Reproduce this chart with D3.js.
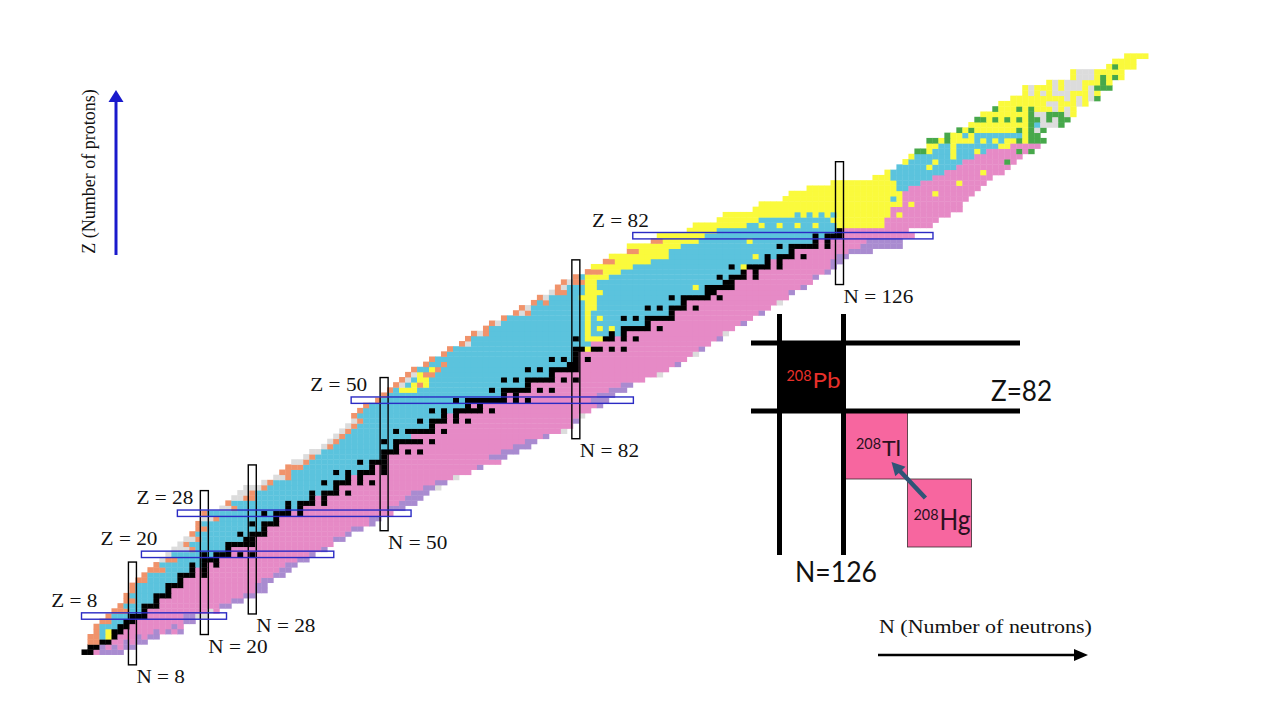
<!DOCTYPE html>
<html>
<head>
<meta charset="utf-8">
<script src="https://cdn.jsdelivr.net/npm/d3@7"></script>
<style>
  body { margin: 0; background: #fff; }
  svg { display: block; }
</style>
</head>
<body>
<div id="chart"></div>
<script>
// one row per element, index 0 is Z = 1
// "firstN:" then runs of decay mode + count along N
// k stable, m beta-, b beta+/EC, a alpha, f fission, p proton, n neutron, u unknown
const chartRows = [
  "0:k2m1n4", "1:k2n1m1n1m1n2", "1:p2k2m2n1m1n2", "1:p2b1a1k1m3n1m1n2",
  "2:p1b1a1k2m5n1m1n1m1n1", "2:p1b3k2m7n1m1", "3:p2b2k2m8n2", "4:p1b3k3m6n2u2",
  "5:p3b2k1m10u1m1", "6:p1b3k3m10n2", "7:p2b3k1m12n2", "7:p1b4k3m12n2",
  "8:p1b5k1m14n2", "8:p1b5k3m12n2", "9:p2b5k1m13n2", "10:p1b5k3m1k1m11n2",
  "11:p3b4k1m1k1m12n2", "12:p1b5k1b1k1m1k1m11n2", "13:u1p2b4k3m13n2", "14:u1b5k1b1k3m1k1m1k1m9n1",
  // Z = 21..40
  "15:u3p1b5k1m15n1", "16:u1p1b6k5m13", "17:u2p1b7k2m13n2", "18:p1b7k1b1k3m13n1",
  "19:p2b9k1m14n2", "19:p1b8k1b1k3m15n1", "20:u2p1b9k1m15n2", "20:p1b9k1b1k3m1k1m15",
  "23:u2p1b8k1b1k1m14n3", "24:p1b9k1b1k3m1k1m12n3", "25:u2p2b9k1m1k1m13n3", "26:u2p1b9k1b1k3m1k1m10n3",
  "27:u3p1b11k1m14n2u1", "30:u1p1b8k1b1k3m1k1m1k1m10n2", "32:u2p1b9k1m1k1m15u1", "33:p2b7k1b1k1b1k3m1k1m14",
  "34:p3b11k1m1k1m15n1", "35:u2p1b8k1b1k3m19", "37:u1p1b11k1m17n3", "38:u2b10k3m1k1m1k1m13n3",
  // Z = 41..60
  "40:u1p1b10k1m19n3", "41:u1p1b7k1b1k5m1k1m15n2", "42:u1p1b11m22n1", "43:u1p1b7k1b1k5m1k1m19u1",
  "44:u1p1b12k1m23", "45:u1p1b9k1b1k3m1k1m1k1m17n1", "45:p1b14k1m1k1m20u1", "46:p1b11k1b1k1b1k5m1k1m16",
  "47:p1b16k1m1k1m19n1", "49:p1b12k1b1k7m1k1m1k1m10n3", "50:p1b19k1m1k1m13n3", "51:p1b1a3b12k1b1k5m1k1m1k1m9n3",
  "52:p1u1b1a1p1a1b16k1m15n2", "53:p1u1b1a2b12k1b1k1b1k5m1k1m1k1m11", "54:p1u1a1p2b19k1m17u1", "55:p1b2a1p1b14k1b1k1b1k5m15",
  "57:p1b2p1b20k2m16n1", "58:p1b19k1b1k1b1k1m1k1m16", "60:p1b21k1m19u1", "61:p1b20k2a1k2m1k1m1k1m12n1",
  // Z = 61..80
  "63:p1u1b20m20", "64:p1b17k1b1a3k2m1k1m1k1m13n1", "65:p1u1p1b16a1b3k1b1k1m16u1", "67:p1b16a1b1a1b1a1b1k5m1k1m12",
  "68:p1u1b14a1b9k1m15n1", "70:p1b13a1b1a1b3k1b1k1b1k5m13", "72:p1u1p1b9a1b13k1m14n1", "73:p1u1b9a2b8k1b1k1b1k3m1k1m12",
  "75:p1b1p1b6a2b14k1m15u1", "76:p1u1b5a3b12k1b1k5m1k1m11", "78:u1p2b3a3b17k2m12n1", "79:p1u1b3a2b16a1b1k5m11n1",
  "80:p1u1p2a2b21k2m13", "82:p1b1a4b18k1b1k3m1k1m9n1", "84:p3a3b20k1m1k1m11n1", "85:a7b16k1b1a1k4m1k1m8n1",
  "87:p2a6b19k1m1k1m8n2", "88:a10b14a1b1k1b1k3m1k1m5n2", "91:p2a5b20k1m9n4", "91:a9b16k1b1k5m1k1m5n7",
  // Z = 81..100
  "95:p2a6b8a1b10k1m1k1m6n6", "96:a8b18k1b1k3m12", "101:a5b20k1m11", "102:a9b2a1b2a1b2a1b2a1b3a8m8",
  "106:a7b12a9m9", "107:a12b1a1b1a1b1a1b1a9m1a1m8", "112:a23m12", "113:a24m1a1m8",
  "117:a18b1a1m11", "118:a19m5a1m6", "121:a15b2m12", "125:a11b4m6a1m4",
  "132:a3b7m10", "134:a1b9m6a1m3", "136:b5a1b4m9", "137:a1b4a1b4m7f1m1",
  "138:a1b6a1b3m8", "139:f2a1b3a1b3a1b1m5f1m1f1", "141:a2b2a1b7a2m5", "141:f2a1f1a4b1a1b1a1b1a2f1a1f3",
  // Z = 101..116
  "144:f1a2b1a1b8a1f2", "146:f1a1f1a7f1a1f1u1f1", "148:a10f1b1u3f1", "149:f2a1f1a1f1a1f1a1f2u1f1u1f2",
  "150:a8f1u2f3u1a1", "152:f1a3f1a1f1a3u1a1u1a1", "153:a8u2a3u1a1", "155:a9u1a1u1a1u1f1",
  "157:a1u1a1u1a1u3a3u1a1", "157:a1u1a3u1a1u3a1u1f3", "161:a1u1a1u3a3f1a1", "165:a1u3a1f1a1f1a1",
  "165:a1u3a5", "171:a1f1a3", "172:a4", "174:a4"
];

// magic numbers and the extent of their highlight boxes (in Z or N units)
const magicN = [8, 20, 28, 50, 82, 126];
const magicNZfrom = [-1.5, 4.4, 8.4, 24.6, 42.5, 72.5];
const magicNZto = [18.5, 32.4, 37.4, 54.4, 77.3, 96];
const magicZ = [8, 20, 28, 50, 82];
const magicZNfrom = [-0.5, 9.5, 15.5, 44.5, 91.5];
const magicZNto = [23.7, 41.6, 54.5, 91.6, 141.6];

// inset: the A = 208 chain around the doubly magic nucleus
const insetSymbols = ["Pb", "Tl", "Hg"];
const insetMass = [208, 208, 208];
const insetZ = [82, 81, 80];
const insetN = [126, 127, 128];
const insetMode = ["k", "m", "m"];

const modeColor = {
  k: "#000000", m: "#e68ac6", b: "#5bc3dd", a: "#fafa3c",
  f: "#47a84b", p: "#f0936b", n: "#a98bd0", u: "#dcdcdc"
};

const W = 1280, H = 720;
const svg = d3.select("#chart").append("svg")
  .attr("width", W).attr("height", H);

// the picture's proton rows get a bit taller above Z = 82
const x = d3.scaleLinear().domain([0, 126]).range([84.5, 839.5]);
const y = d3.scaleLinear().domain([1, 82, 116]).range([652, 235.7, 56]);
const cw = x(1) - x(0);

// expand the rows into cells
const cells = [];
chartRows.forEach((row, i) => {
  const z = i + 1;
  const parts = row.split(":");
  let n = +parts[0];
  for (const r of parts[1].matchAll(/([a-z])(\d+)/g)) {
    for (let j = 0; j < +r[2]; j++) cells.push({ z: z, n: n++, mode: r[1] });
  }
});

const plot = svg.append("g");
plot.selectAll("rect.cell")
  .data(cells)
  .join("rect")
  .attr("class", "cell")
  .attr("x", d => x(d.n) - cw / 2)
  .attr("y", d => y(d.z + 0.5))
  .attr("width", cw + 0.4)
  .attr("height", d => y(d.z - 0.5) - y(d.z + 0.5) + 0.4)
  .attr("fill", d => modeColor[d.mode]);

// stretched serif text, like the picture
const serif = "'Times New Roman', 'Liberation Serif', serif";
function stretch(sel, k) {
  sel.each(function() {
    const w = this.getComputedTextLength();
    d3.select(this).attr("textLength", w * k).attr("lengthAdjust", "spacingAndGlyphs");
  });
}

// neutron magic boxes
const nBoxes = magicN.map((n, i) => ({ n: n, z0: magicNZfrom[i], z1: magicNZto[i] }));
plot.selectAll("rect.nbox")
  .data(nBoxes)
  .join("rect")
  .attr("class", "nbox")
  .attr("x", d => x(d.n) - 4)
  .attr("y", d => y(d.z1))
  .attr("width", 8)
  .attr("height", d => y(d.z0) - y(d.z1))
  .attr("fill", "none")
  .attr("stroke", "#000")
  .attr("stroke-width", 1.4);

// proton magic boxes
const zBoxes = magicZ.map((z, i) => ({ z: z, n0: magicZNfrom[i], n1: magicZNto[i] }));
plot.selectAll("rect.zbox")
  .data(zBoxes)
  .join("rect")
  .attr("class", "zbox")
  .attr("x", d => x(d.n0))
  .attr("y", d => y(d.z) - 3.2)
  .attr("width", d => x(d.n1) - x(d.n0))
  .attr("height", 6.4)
  .attr("fill", "none")
  .attr("stroke", "#2b2bc4")
  .attr("stroke-width", 1.4);

plot.selectAll("text.zlab")
  .data(zBoxes)
  .join("text")
  .attr("class", "zlab")
  .attr("x", d => x(d.n0) + 16)
  .attr("y", d => y(d.z) - 9)
  .attr("text-anchor", "end")
  .attr("font-family", serif)
  .attr("font-size", 18)
  .attr("fill", "#111")
  .text(d => "Z = " + d.z)
  .call(stretch, 1.18);

plot.selectAll("text.nlab")
  .data(nBoxes)
  .join("text")
  .attr("class", "nlab")
  .attr("x", d => x(d.n) + 4)
  .attr("y", d => y(d.z0) + 18)
  .attr("font-family", serif)
  .attr("font-size", 18)
  .attr("fill", "#111")
  .text(d => "N = " + d.n)
  .call(stretch, 1.18);

// axis arrows and titles
const ax = svg.append("g");
ax.append("line")
  .attr("x1", 116).attr("y1", 255).attr("x2", 116).attr("y2", 100)
  .attr("stroke", "#1a1acc").attr("stroke-width", 3);
ax.append("path")
  .attr("d", "M116,90 L123.5,102 L108.5,102 Z")
  .attr("fill", "#1a1acc");
ax.append("text")
  .attr("transform", "translate(95,171.5) rotate(-90)")
  .attr("text-anchor", "middle")
  .attr("font-family", serif)
  .attr("font-size", 18)
  .attr("fill", "#111")
  .text("Z (Number of protons)");

ax.append("line")
  .attr("x1", 878).attr("y1", 655).attr("x2", 1076).attr("y2", 655)
  .attr("stroke", "#000").attr("stroke-width", 2.5);
ax.append("path")
  .attr("d", "M1088,655 L1074,649 L1074,661 Z")
  .attr("fill", "#000");
ax.append("text")
  .attr("x", 879).attr("y", 633)
  .attr("font-family", serif)
  .attr("font-size", 18)
  .attr("fill", "#111")
  .text("N (Number of neutrons)")
  .call(stretch, 1.22);

// inset, its own little N-Z grid
const ix = d3.scaleLinear().domain([126, 127]).range([811.5, 875.5]);
const iy = d3.scaleLinear().domain([82, 81]).range([377, 445]);
const iw = ix(127) - ix(126);
const ih = iy(81) - iy(82);
const inset = svg.append("g");
const sans = "Lato, 'Open Sans', sans-serif";
const insetColor = { k: "#000000", m: "#f7669f" };

const insetCells = insetSymbols.map((s, i) => ({
  sym: s, a: insetMass[i], z: insetZ[i], n: insetN[i], mode: insetMode[i]
}));

inset.selectAll("rect.icell")
  .data(insetCells)
  .join("rect")
  .attr("class", "icell")
  .attr("x", d => ix(d.n) - iw / 2)
  .attr("y", d => iy(d.z) - ih / 2)
  .attr("width", iw)
  .attr("height", ih)
  .attr("fill", d => insetColor[d.mode])
  .attr("stroke", "#3a2a30")
  .attr("stroke-width", 0.8);

// thick grid lines around Pb-208
[125.5, 126.5].forEach(n => {
  inset.append("line")
    .attr("x1", ix(n)).attr("x2", ix(n)).attr("y1", 314).attr("y2", 555)
    .attr("stroke", "#000").attr("stroke-width", 5);
});
[82.5, 81.5].forEach(z => {
  inset.append("line")
    .attr("x1", 751).attr("x2", 1020).attr("y1", iy(z)).attr("y2", iy(z))
    .attr("stroke", "#000").attr("stroke-width", 5);
});

const symSize = { Pb: 22, Tl: 22, Hg: 28 };
const symWidth = { Pb: 28, Tl: 19, Hg: 31 };
insetCells.forEach(d => {
  const cx = ix(d.n) - iw / 2;
  const col = d.mode === "k" ? "#e8302a" : "#2a1020";
  const dx = d.sym === "Pb" ? 7 : (d.sym === "Tl" ? 12.5 : 6);
  const base = d.sym === "Pb" ? 387.7 : (d.sym === "Tl" ? 456 : 530);
  const t = inset.append("text")
    .attr("x", cx + dx)
    .attr("y", base)
    .attr("font-family", sans)
    .attr("fill", col);
  t.append("tspan")
    .attr("font-size", 16)
    .attr("dy", d.sym === "Hg" ? -10 : -7)
    .text(d.a)
    .attr("textLength", 25).attr("lengthAdjust", "spacingAndGlyphs");
  t.append("tspan")
    .attr("font-size", symSize[d.sym])
    .attr("dy", d.sym === "Hg" ? 10 : 7)
    .attr("dx", 1)
    .text(d.sym)
    .attr("textLength", symWidth[d.sym]).attr("lengthAdjust", "spacingAndGlyphs");
});

// decay arrow 208Hg -> 208Tl
const from = insetCells[2], to = insetCells[1];
const p0 = [ix(from.n) + 0.22 * (ix(to.n) - ix(from.n)), iy(from.z) + 0.22 * (iy(to.z) - iy(from.z))];
const p1 = [ix(from.n) + 0.75 * (ix(to.n) - ix(from.n)), iy(from.z) + 0.75 * (iy(to.z) - iy(from.z))];
const len = Math.hypot(p1[0] - p0[0], p1[1] - p0[1]);
const ux = (p1[0] - p0[0]) / len, uy = (p1[1] - p0[1]) / len;
const hb = [p1[0] - 13 * ux, p1[1] - 13 * uy];
inset.append("line")
  .attr("x1", p0[0]).attr("y1", p0[1]).attr("x2", hb[0] + 2 * ux).attr("y2", hb[1] + 2 * uy)
  .attr("stroke", "#2e5577").attr("stroke-width", 4.5);
inset.append("path")
  .attr("d", `M${p1[0]},${p1[1]} L${hb[0] - 7 * uy},${hb[1] + 7 * ux} L${hb[0] + 7 * uy},${hb[1] - 7 * ux} Z`)
  .attr("fill", "#2e5577");

inset.append("text")
  .attr("x", 991).attr("y", 401)
  .attr("font-family", sans).attr("font-size", 28).attr("fill", "#111")
  .text("Z=82")
  .attr("textLength", 61).attr("lengthAdjust", "spacingAndGlyphs");
inset.append("text")
  .attr("x", 795).attr("y", 582)
  .attr("font-family", sans).attr("font-size", 28).attr("fill", "#111")
  .text("N=126")
  .attr("textLength", 82).attr("lengthAdjust", "spacingAndGlyphs");
</script>
</body>
</html>
